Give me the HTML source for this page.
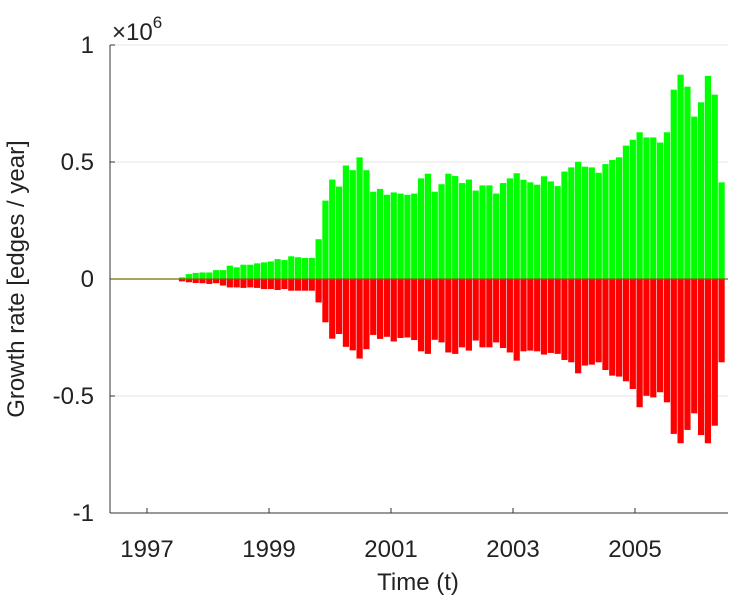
<!DOCTYPE html>
<html><head><meta charset="utf-8"><style>
body{margin:0;background:#fff;}
svg{display:block;font-family:"Liberation Sans",sans-serif;}
</style></head><body>
<svg id="c" width="730" height="600">
<g id="grid"></g>
<g id="bars"></g>
<g id="axes"></g>
<text x="112" y="40" font-size="24" fill="#222">×10<tspan dy="-12" font-size="17">6</tspan></text>
<text x="418" y="590" font-size="24" fill="#222" text-anchor="middle">Time (t)</text>
<text transform="translate(24,279) rotate(-90)" font-size="24" fill="#222" text-anchor="middle">Growth rate [edges / year]</text>
</svg>
<script>
const positive=[0.002,0.002,0.002,0.002,0.002,0.002,0.002,0.002,0.002,0.002,
0.007,0.021,0.026,0.028,0.028,0.038,0.038,0.057,0.05,0.061,0.061,0.067,0.071,0.075,0.085,0.081,0.097,0.093,
0.09,0.09,0.17,0.335,0.425,0.395,0.485,0.465,0.52,0.465,0.373,0.385,0.36,0.37,0.365,0.36,0.365,0.43,0.45,0.373,0.405,0.45,0.44,0.41,0.425,0.378,0.40,0.40,0.365,0.41,0.43,
0.452,0.424,0.413,0.403,0.439,0.417,0.397,0.459,0.477,0.501,0.48,0.477,0.454,0.491,0.509,0.52,0.57,0.595,0.627,0.605,0.605,0.583,0.627,0.809,0.873,0.822,0.694,0.755,0.868,0.788,0.413];
const negative=[-0.002,-0.002,-0.002,-0.002,-0.002,-0.002,-0.002,-0.002,-0.002,-0.002,
-0.01,-0.014,-0.017,-0.018,-0.021,-0.018,-0.028,-0.036,-0.036,-0.038,-0.036,-0.038,-0.043,-0.043,-0.047,-0.043,-0.05,-0.05,
-0.05,-0.05,-0.10,-0.185,-0.255,-0.235,-0.29,-0.305,-0.34,-0.30,-0.239,-0.256,-0.247,-0.267,-0.252,-0.25,-0.261,-0.309,-0.32,-0.26,-0.271,-0.314,-0.32,-0.292,-0.306,-0.263,-0.292,-0.292,-0.271,-0.295,-0.314,
-0.349,-0.309,-0.306,-0.309,-0.323,-0.316,-0.32,-0.346,-0.356,-0.403,-0.37,-0.366,-0.356,-0.389,-0.413,-0.417,-0.437,-0.47,-0.548,-0.499,-0.506,-0.484,-0.527,-0.662,-0.702,-0.645,-0.574,-0.667,-0.702,-0.627,-0.356];
const xTicks=[1997,1999,2001,2003,2005];
const yTicks=[1,0.5,0,-0.5,-1];
const yTickLabels=["1","0.5","0","-0.5","-1"];
const NS="http://www.w3.org/2000/svg";
const L=110,R=728,T=45,B=513;
const y=v=>279-(v)*234;
const xYear=yr=>147+(yr-1997)*61;
const bw=(725-110.3)/positive.length;
const xBar=i=>110.3+bw*i;
function mk(tag,attrs,parent){const e=document.createElementNS(NS,tag);for(const k in attrs)e.setAttribute(k,attrs[k]);parent.appendChild(e);return e;}
const grid=document.getElementById('grid'),bars=document.getElementById('bars'),axes=document.getElementById('axes');
yTicks.forEach((v,i)=>{
  if(v!==0&&v!==-1){const g=mk('line',{x1:L,x2:R,y1:y(v),y2:y(v),stroke:'#e6e6e6','stroke-width':1},grid);
  
  }
  const t=mk('text',{x:94,y:y(v)+8,'font-size':24,fill:'#222','text-anchor':'end'},axes);
  t.textContent=yTickLabels[i];
  
  
  const tk=mk('line',{x1:L,x2:L+5,y1:y(v),y2:y(v),stroke:'#333'},axes);
  
  
});
positive.forEach((v,i)=>{
  const r=mk('rect',{x:xBar(i)+0.3,y:y(v),width:bw-0.6,height:y(0)-y(v),fill:'#00ff00'},bars);
  
  
});
negative.forEach((v,i)=>{
  const r=mk('rect',{x:xBar(i)+0.3,y:y(0),width:bw-0.6,height:y(v)-y(0),fill:'#ff0000'},bars);
  
  
});
const z=mk('line',{x1:L,x2:R,y1:y(0),y2:y(0),stroke:'#7a6a00','stroke-width':1.2},axes);


xTicks.forEach(yr=>{
  const t=mk('text',{x:xYear(yr),y:557,'font-size':24,fill:'#222','text-anchor':'middle'},axes);
  t.textContent=yr;
  
  
  const tk=mk('line',{x1:xYear(yr),x2:xYear(yr),y1:B,y2:B-5,stroke:'#333'},axes);
  
  
});
const ya=mk('line',{x1:L,x2:L,y1:T,y2:B,stroke:'#333'},axes);


const xa=mk('line',{x1:L,x2:R,y1:B,y2:B,stroke:'#333'},axes);


</script>
</body></html>
